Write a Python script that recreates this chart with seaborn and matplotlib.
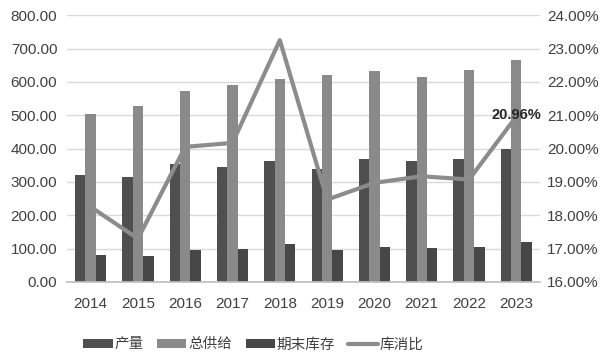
import numpy as np
import pandas as pd
import matplotlib
matplotlib.use("Agg")
import matplotlib.pyplot as plt
import matplotlib.ticker as mticker
from matplotlib.patches import Patch
from matplotlib.lines import Line2D
import seaborn as sns

years = ["2014", "2015", "2016", "2017", "2018", "2019", "2020", "2021", "2022", "2023"]
output = [320, 315, 355, 345, 362, 340, 370, 362, 369, 399]           # 产量
supply = [505, 527, 573, 592, 610, 620, 632, 616, 635, 667]           # 总供给
stock = [80, 79, 97, 100, 115, 97, 105, 102, 105, 119]                # 期末库存
ratio = [18.25, 17.30, 20.05, 20.17, 23.25, 18.47, 18.97, 19.17, 19.07, 20.96]  # 库消比 %

series_names = ["产量", "总供给", "期末库存"]
series_colors = ["#4f4f4f", "#8a8a8a", "#474747"]
line_color = "#8c8c8c"

sns.set_theme(style="white")
num_font = ["Liberation Sans", "DejaVu Sans"]
cjk_font = ["Noto Sans CJK SC", "DejaVu Sans"]
plt.rcParams["font.family"] = num_font

df = pd.DataFrame({
    "year": years * 3,
    "value": output + supply + stock,
    "series": sum([[n] * len(years) for n in series_names], []),
})

fig = plt.figure(figsize=(6.11, 3.61), dpi=100)
ax = fig.add_axes([0.1097, 0.219, 0.774, 0.739])

sns.barplot(data=df, x="year", y="value", hue="series", hue_order=series_names,
            palette=series_colors, width=0.66, gap=0, saturation=1,
            linewidth=0, legend=False, ax=ax, zorder=2)

ax.set_ylim(0, 800)
ax.set_xlim(-0.5, len(years) - 0.5)
ax.yaxis.set_major_locator(mticker.MultipleLocator(100))
ax.yaxis.set_major_formatter(mticker.FormatStrFormatter("%.2f"))
ax.grid(axis="y", color="#d9d9d9", linewidth=1, zorder=0)
ax.set_axisbelow(True)
ax.set_xlabel("")
ax.set_ylabel("")
for s in ["top", "left", "right"]:
    ax.spines[s].set_visible(False)
ax.spines["bottom"].set_color("#bfbfbf")
ax.tick_params(axis="x", which="major", length=0, pad=11, labelsize=11, colors="#404040")
ax.set_xticks(np.arange(-0.5, len(years), 1), minor=True)
ax.tick_params(axis="x", which="minor", length=5, color="#bfbfbf", direction="out")
ax.tick_params(axis="y", length=0, pad=7, labelsize=11, colors="#404040")

ax2 = ax.twinx()
ax2.plot(np.arange(len(years)), np.array(ratio) / 100, color=line_color,
         linewidth=3, solid_joinstyle="round", zorder=3)
ax2.set_ylim(0.16, 0.24)
ax2.yaxis.set_major_locator(mticker.MultipleLocator(0.01))
ax2.yaxis.set_major_formatter(mticker.PercentFormatter(1.0, decimals=2))
for s in ["top", "left", "right", "bottom"]:
    ax2.spines[s].set_visible(False)
ax2.tick_params(axis="y", length=0, pad=5, labelsize=11, colors="#404040")
ax2.grid(False)

ax2.annotate(f"{ratio[-1]:.2f}%", xy=(len(years) - 1, ratio[-1] / 100),
             xytext=(0, 1), textcoords="offset points", ha="center", va="center",
             fontsize=10.5, fontweight="bold", color="#262626")

handles = [Patch(facecolor=c, edgecolor="none") for c in series_colors]
handles.append(Line2D([0], [0], color=line_color, linewidth=3))
labels = series_names + ["库消比"]
fig.legend(handles, labels, loc="center", bbox_to_anchor=(0.415, 0.046),
           ncol=4, frameon=False, prop={"family": cjk_font, "size": 10.5},
           handlelength=2.0, handleheight=0.6, handletextpad=0.15,
           columnspacing=0.9, labelcolor="#404040")

fig.savefig("out.png", dpi=100)
